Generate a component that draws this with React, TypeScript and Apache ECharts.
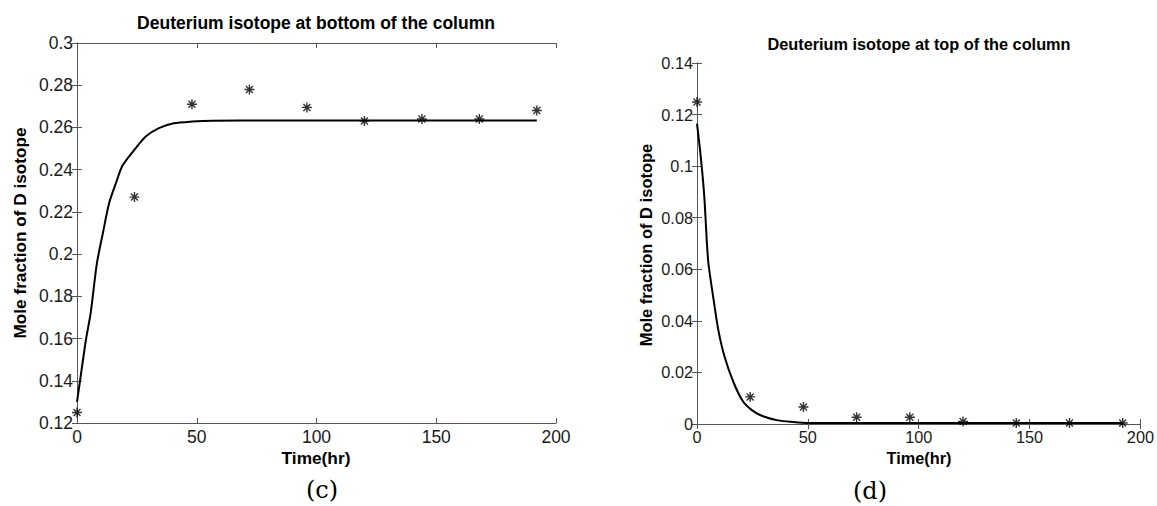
import React, { useEffect, useRef } from "react";
import * as echarts from "echarts";

const sampleTimes = [0, 24, 48, 72, 96, 120, 144, 168, 192];
const bottomMeasured = [0.125, 0.227, 0.271, 0.278, 0.2695, 0.263, 0.264, 0.264, 0.268];
const topMeasured = [0.1249, 0.0105, 0.0066, 0.0026, 0.0026, 0.001, 0.0004, 0.0004, 0.0004];

const bottomModelT = [0, 1.1, 3.7, 5.7, 8.3, 10.8, 13.4, 16.5, 18.8, 23.4, 28.8, 34.2, 40.4, 48.1, 56.6, 80, 120, 160, 192];
const bottomModelY = [0.13, 0.1387, 0.1592, 0.172, 0.1956, 0.2099, 0.2241, 0.2344, 0.2415, 0.2486, 0.2558, 0.2597, 0.262, 0.2628, 0.2632, 0.2633, 0.2633, 0.2633, 0.2633];

const topModelT = [0, 1.7, 3.3, 5, 7.5, 9.6, 12.4, 16.6, 20.7, 24.9, 29.8, 36.5, 43, 50, 100, 150, 192];
const topModelY = [0.1165, 0.1036, 0.0881, 0.0636, 0.0481, 0.0365, 0.0262, 0.0159, 0.0088, 0.0053, 0.003, 0.0014, 0.0008, 0.0004, 0.0004, 0.0004, 0.0004];

const xTicks = { min: 0, max: 200, interval: 50 };
const bottomY = { min: 0.12, max: 0.3, interval: 0.02 };
const topY = { min: 0, max: 0.14, interval: 0.02 };

const titles = ["Deuterium isotope at bottom of the column", "Deuterium isotope at top of the column"];
const panelLabels = ["(c)", "(d)"];
const xName = "Time(hr)";
const yName = "Mole fraction of D isotope";

const ASTERISK = "path://M5 0V10M0 5H10M1.5 1.5L8.5 8.5M1.5 8.5L8.5 1.5";
const FRAME = "#555";
const LABEL = "#1a1a1a";
const SANS = "Arial, 'Liberation Sans', sans-serif";

const zip = (a: number[], b: number[]) => a.map((v, i) => [v, b[i]]);

export default function App() {
  const ref = useRef<HTMLDivElement>(null);
  useEffect(() => {
    if (!ref.current) return;
    const chart = echarts.init(ref.current, undefined, { renderer: "svg" });
    const grids = [
      { left: 77, top: 43, width: 479, height: 380 },
      { left: 697, top: 63, width: 445, height: 361 },
    ];
    const fs = [17.5, 16.3];
    const line = { show: true, lineStyle: { color: FRAME, width: 1 } };
    const tick = { show: true, inside: true, length: 5, lineStyle: { color: FRAME } };
    const mainX = (gi: number) => ({
      type: "value", gridIndex: gi, ...xTicks,
      axisLine: line, axisTick: tick,
      axisLabel: { color: LABEL, fontSize: fs[gi], fontFamily: SANS, margin: 5 },
      splitLine: { show: false },
    });
    const topX = (gi: number) => ({
      type: "value", gridIndex: gi, position: "top", ...xTicks,
      axisLine: line, axisTick: tick,
      axisLabel: { show: false }, splitLine: { show: false },
    });
    const mainY = (gi: number, r: any) => ({
      type: "value", gridIndex: gi, ...r,
      axisLine: line, axisTick: tick,
      axisLabel: { color: LABEL, fontSize: fs[gi], fontFamily: SANS, margin: 4 },
      splitLine: { show: false },
    });
    const rightY = (gi: number, r: any) => ({
      type: "value", gridIndex: gi, position: "right", ...r,
      axisLine: line, axisTick: tick,
      axisLabel: { show: false }, splitLine: { show: false },
    });
    const scatter = (xi: number, data: number[][]) => ({
      type: "scatter", xAxisIndex: xi, yAxisIndex: xi, data,
      symbol: ASTERISK, symbolSize: 10,
      itemStyle: { color: "rgba(0,0,0,0)", borderColor: "#000", borderWidth: 1.4 },
    });
    const curve = (xi: number, data: number[][]) => ({
      type: "line", xAxisIndex: xi, yAxisIndex: xi, data, showSymbol: false,
      smooth: 0.25,
      lineStyle: { color: "#000", width: 2 },
    });
    const txt = (x: number, y: number, text: string, font: string, rot = 0) => ({
      type: "text", x, y, rotation: rot,
      style: { text, fill: "#000", font, textAlign: "center", textVerticalAlign: "middle" },
    });
    chart.setOption({
      animation: false,
      backgroundColor: "#fff",
      grid: grids,
      xAxis: [mainX(0), mainX(1), topX(0), topX(1)],
      yAxis: [mainY(0, bottomY), mainY(1, topY), rightY(0, bottomY), rightY(1, topY)],
      series: [
        curve(0, zip(bottomModelT, bottomModelY)),
        scatter(0, zip(sampleTimes, bottomMeasured)),
        curve(1, zip(topModelT, topModelY)),
        scatter(1, zip(sampleTimes, topMeasured)),
      ],
      graphic: [
        txt(316, 23, titles[0], `bold 17.5px ${SANS}`),
        txt(919, 44, titles[1], `bold 16.3px ${SANS}`),
        txt(20, 233, yName, `bold 17.2px ${SANS}`, Math.PI / 2),
        txt(646, 245, yName, `bold 16.5px ${SANS}`, Math.PI / 2),
        txt(316, 458, xName, `bold 17.3px ${SANS}`),
        txt(919, 458, xName, `bold 16.3px ${SANS}`),
        txt(322, 490, panelLabels[0], `24px 'DejaVu Serif', serif`),
        txt(870, 491, panelLabels[1], `24px 'DejaVu Serif', serif`),
      ],
    });
    return () => chart.dispose();
  }, []);
  return <div ref={ref} style={{ position: "fixed", left: 0, top: 0, width: 1157, height: 506 }} />;
}
